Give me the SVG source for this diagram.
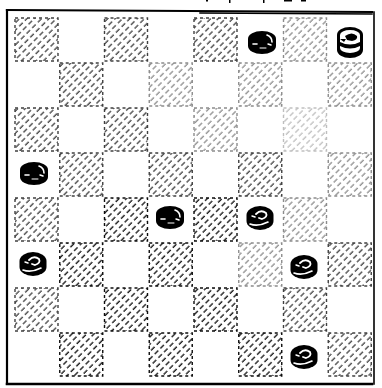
<svg xmlns="http://www.w3.org/2000/svg" width="382" height="388" viewBox="0 0 382 388">
<style>
.frame{stroke:#000;fill:none;stroke-linecap:square}
.sq{fill:url(#hatch);stroke:#000;stroke-width:1.4;stroke-dasharray:3 3}
.d{opacity:0.95}.m{opacity:0.75}.f{opacity:0.45}.vf{opacity:0.25}
.hl{stroke:#fff;fill:none;stroke-linecap:round}
</style>
<defs>
<pattern id="hatch" patternUnits="userSpaceOnUse" width="5.2" height="16" patternTransform="rotate(45)">
<line x1="1" y1="0" x2="1" y2="16" stroke="#000" stroke-width="1.3" stroke-dasharray="5 3"/>
</pattern>
<g id="blackPiece">
<path d="M-14,-3 A14,8 0 0 1 14,-3 L14,4 A14,8 0 0 1 -14,4 Z" fill="#000"/>
<path class="hl" d="M5,-7 Q10,-5 10,0" stroke-width="1.6"/>
<path class="hl" d="M6,2 L9,3" stroke-width="1.4"/>
<path class="hl" d="M-9,2 L-5,2" stroke-width="1.6"/>
<path class="hl" d="M-2,6 L4,6" stroke-width="1"/>
</g>
<g id="whitePiece">
<path d="M-13.5,-3 A13.5,9 0 0 1 13.5,-3 L13.5,3 A13.5,9 0 0 1 -13.5,3 Z" fill="#000"/>
<path class="hl" d="M-4,-4 Q1,-9 6,-5 Q8,-1 2,1 L-1,0" stroke-width="1.8"/>
<path class="hl" d="M-10,6 Q-2,9 8,4" stroke-width="1.6"/>
<path class="hl" d="M-8,-2 L-5,-1" stroke-width="1.4"/>
</g>
<g id="kingPiece">
<path d="M-13,-7 A13,8 0 0 1 13,-7 L13,8 A13,8 0 0 1 -13,8 Z" fill="#000"/>
<path d="M-10,-7 A10,5 0 0 1 10,-7 L10,6 A10,5 0 0 1 -10,6 Z" fill="#fff"/>
<path d="M-5,-6 Q2,-11 7,-6 Q8,-2 2,-1 L-3,-2 Z" fill="#000"/>
<path d="M-10,0 Q0,5 10,0 L10,4 Q0,9 -10,4 Z" fill="#000"/>
<path d="M-10,-3 L-4,-3 L-6,0 Z" fill="#000"/>
</g>
</defs>
<rect width="382" height="388" fill="#fff"/>
<g id="top-fragments" fill="#000">
<rect x="206" y="0" width="2" height="1.5"/>
<rect x="229" y="0" width="1.5" height="3"/>
<rect x="263" y="0" width="1.5" height="3"/>
<rect x="284" y="0" width="8" height="1.5"/>
<rect x="301" y="0" width="5" height="1.5"/>
</g>
<g id="board-squares">
<rect class="sq m" x="15" y="18" width="43" height="43"/>
<rect class="sq m" x="104.5" y="18" width="43" height="43"/>
<rect class="sq m" x="194" y="18" width="43" height="43"/>
<rect class="sq f" x="283.5" y="18" width="43" height="43"/>
<rect class="sq m" x="59.75" y="63" width="43" height="43"/>
<rect class="sq f" x="149.25" y="63" width="43" height="43"/>
<rect class="sq f" x="238.75" y="63" width="43" height="43"/>
<rect class="sq f" x="328.25" y="63" width="43" height="43"/>
<rect class="sq m" x="15" y="108" width="43" height="43"/>
<rect class="sq m" x="104.5" y="108" width="43" height="43"/>
<rect class="sq f" x="194" y="108" width="43" height="43"/>
<rect class="sq vf" x="283.5" y="108" width="43" height="43"/>
<rect class="sq m" x="59.75" y="153" width="43" height="43"/>
<rect class="sq m" x="149.25" y="153" width="43" height="43"/>
<rect class="sq m" x="238.75" y="153" width="43" height="43"/>
<rect class="sq f" x="328.25" y="153" width="43" height="43"/>
<rect class="sq m" x="15" y="198" width="43" height="43"/>
<rect class="sq d" x="104.5" y="198" width="43" height="43"/>
<rect class="sq d" x="194" y="198" width="43" height="43"/>
<rect class="sq f" x="283.5" y="198" width="43" height="43"/>
<rect class="sq d" x="59.75" y="243" width="43" height="43"/>
<rect class="sq d" x="149.25" y="243" width="43" height="43"/>
<rect class="sq f" x="238.75" y="243" width="43" height="43"/>
<rect class="sq m" x="328.25" y="243" width="43" height="43"/>
<rect class="sq m" x="15" y="288" width="43" height="43"/>
<rect class="sq d" x="104.5" y="288" width="43" height="43"/>
<rect class="sq d" x="194" y="288" width="43" height="43"/>
<rect class="sq m" x="283.5" y="288" width="43" height="43"/>
<rect class="sq d" x="59.75" y="333" width="43" height="43"/>
<rect class="sq d" x="149.25" y="333" width="43" height="43"/>
<rect class="sq d" x="238.75" y="333" width="43" height="43"/>
<rect class="sq m" x="328.25" y="333" width="43" height="43"/>
</g>
<g id="frame">
<path class="frame" d="M7,10 L372,12" stroke-width="2.2"/>
<path class="frame" d="M200,13 L372,14" stroke-width="1.5"/>
<path class="frame" d="M7,10 L7,384" stroke-width="2.2"/>
<path class="frame" d="M7,384 L372,384" stroke-width="2.5"/>
<path class="frame" d="M374,12 L374,384" stroke-width="1.6"/>
</g>
<g id="piece-a8"><use href="#blackPiece" x="262" y="42"/></g>
<g id="piece-h8"><use href="#kingPiece" x="350" y="42"/></g>
<g id="piece-a5"><use href="#blackPiece" x="34" y="173"/></g>
<g id="piece-d4"><use href="#blackPiece" x="170" y="217"/></g>
<g id="piece-f4"><use href="#whitePiece" x="260" y="218"/></g>
<g id="piece-a3"><use href="#whitePiece" x="33" y="264"/></g>
<g id="piece-g3"><use href="#whitePiece" x="304" y="267"/></g>
<g id="piece-g1"><use href="#whitePiece" x="304" y="357"/></g>
</svg>
